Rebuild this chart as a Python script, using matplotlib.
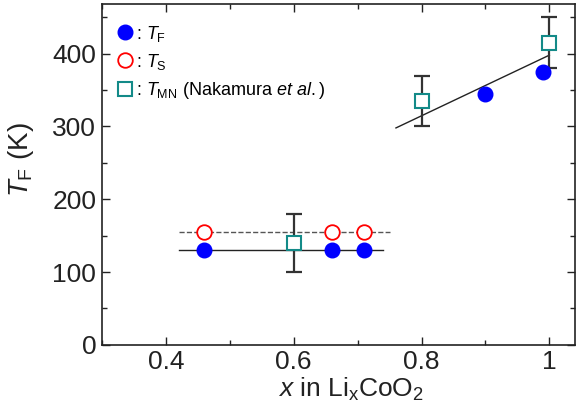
import matplotlib
matplotlib.use('Agg')
import matplotlib.pyplot as plt
from matplotlib.ticker import MultipleLocator

plt.rcParams['font.family'] = ['Liberation Sans', 'DejaVu Sans']
plt.rcParams['mathtext.fontset'] = 'custom'
plt.rcParams['mathtext.rm'] = 'Liberation Sans'
plt.rcParams['mathtext.it'] = 'Liberation Sans:italic'

# T_F (this work)
xf = [0.46, 0.66, 0.71, 0.90, 0.99]
tf = [130, 130, 130, 345, 375]
# T_S
xs = [0.46, 0.66, 0.71]
ts = [155, 155, 155]
# T_MN (Nakamura et al.)
xm = [0.60, 0.80, 1.00]
tm = [140, 335, 415]
tm_err = [40, 35, 35]

# guide lines
fit_x = [0.76, 1.0]
fit_y = [298, 398]
low_x = [0.42, 0.74]
low_y = [130, 130]
dash_x = [0.42, 0.75]
dash_y = [155, 155]

fig = plt.figure(figsize=(5.79, 4.18), dpi=100)
ax = fig.add_axes([0.176, 0.175, 0.817, 0.815])

ax.plot(low_x, low_y, '-', color='#222222', lw=1.0, zorder=1)
ax.plot(dash_x, dash_y, '--', color='#555555', lw=1.0, zorder=1)
ax.plot(fit_x, fit_y, '-', color='#222222', lw=1.0, zorder=1)

ax.errorbar(xm, tm, yerr=tm_err, fmt='none', ecolor='#333333', elinewidth=1.6,
            capsize=5.5, capthick=1.6, zorder=2)
ax.plot(xf, tf, 'o', color='#0000ff', ms=10.5, zorder=3, label=': $T_{\\rm F}$')
ax.plot(xs, ts, 'o', mfc='white', mec='#ff0000', mew=1.3, ms=10.5, zorder=3,
        label=': $T_{\\rm S}$')
ax.plot(xm, tm, 's', mfc='white', mec='#138a88', mew=1.5, ms=10, zorder=4,
        label=': $T_{\\rm MN}$ (Nakamura $et\\ al.$)')

ax.set_xlim(0.3, 1.04)
ax.set_ylim(0, 468)
ax.set_xticks([0.4, 0.6, 0.8, 1.0])
ax.set_xticklabels(['0.4', '0.6', '0.8', '1'])
ax.set_yticks([0, 100, 200, 300, 400])
ax.xaxis.set_minor_locator(MultipleLocator(0.1))
ax.yaxis.set_minor_locator(MultipleLocator(50))
ax.tick_params(which='both', direction='in', top=True, right=True,
               labelsize=19, width=1.0, color='#222222', labelcolor='#222222')
ax.tick_params(which='major', length=6, pad=4)
ax.tick_params(which='minor', length=3.5)
for s in ax.spines.values():
    s.set_linewidth(1.2)
    s.set_color('#222222')

ax.set_xlabel('$x$ in Li$_{\\rm x}$CoO$_2$', fontsize=19, color='#222222')
ax.set_ylabel('$T_{\\rm F}$ (K)', fontsize=20, color='#222222')
ax.xaxis.set_label_coords(0.527, -0.09)
ax.yaxis.set_label_coords(-0.14, 0.545)

leg = ax.legend(loc='upper left', frameon=False, fontsize=13, handletextpad=0.0,
                handlelength=1.2, labelspacing=0.45, borderaxespad=0.3,
                bbox_to_anchor=(0.0, 0.98))

fig.savefig('out.png', dpi=100)
